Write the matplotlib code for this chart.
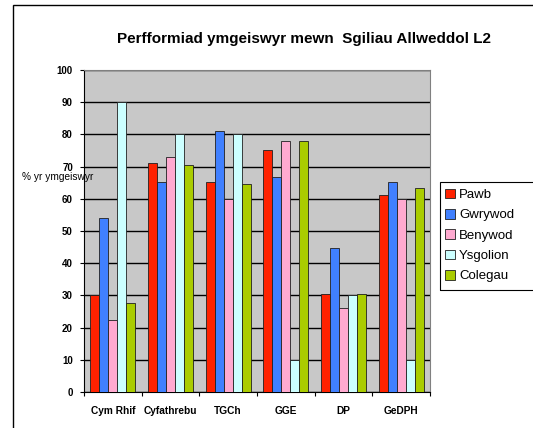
import numpy as np
import matplotlib.pyplot as plt
from matplotlib.patches import Rectangle

plt.rcParams['font.family'] = ['Liberation Sans', 'DejaVu Sans']

categories = ["Cym Rhif", "Cyfathrebu", "TGCh", "GGE", "DP", "GeDPH"]
series = ["Pawb", "Gwrywod", "Benywod", "Ysgolion", "Colegau"]
pawb = [30.0, 71.0, 65.2, 75.3, 30.5, 61.3]
gwrywod = [54.0, 65.2, 81.0, 66.7, 44.6, 65.2]
benywod = [22.5, 73.0, 60.0, 78.0, 26.0, 60.0]
ysgolion = [90.0, 80.0, 80.0, 10.0, 30.0, 10.0]
colegau = [27.7, 70.6, 64.5, 78.0, 30.5, 63.3]
colors = ["#FF2200", "#4080FF", "#FFAAD0", "#CCFFFF", "#AACC00"]
yticks = list(range(0, 101, 10))

values = [pawb, gwrywod, benywod, ysgolion, colegau]

fig = plt.figure(figsize=(5.33, 4.28), dpi=100)
ax = fig.add_axes([84/533, 1-392/428, 346/533, 322/428])
ax.set_facecolor("#C8C8C8")

x = np.arange(len(categories))
w = 0.156
for i, (name, vals) in enumerate(zip(series, values)):
    ax.bar(x + (i - 2)*w, vals, w, color=colors[i], edgecolor="#202020",
           linewidth=0.6, label=name, zorder=3)

ax.set_xlim(-0.5, len(categories)-0.5)
ax.set_ylim(0, 100)
ax.set_yticks(yticks)
ax.set_yticklabels([str(t) for t in yticks], fontsize=7, fontweight="bold")
ax.yaxis.grid(True, color="black", linewidth=1.0, zorder=1)
ax.set_axisbelow(True)

ax.set_xticks(np.arange(len(categories)+1) - 0.5)
ax.set_xticklabels([])
ax.tick_params(axis="x", direction="out", length=3, width=0.8)
ax.tick_params(axis="y", direction="out", length=3, width=0.8, pad=5)
for i, c in enumerate(categories):
    ax.annotate(c, (i, 0), xytext=(0, -10), textcoords="offset points",
                xycoords="data", ha="center", va="top", fontsize=7.3,
                fontweight="bold")

for s in ["top", "right"]:
    ax.spines[s].set_color("#808080")
for s in ["left", "bottom"]:
    ax.spines[s].set_color("black")
    ax.spines[s].set_linewidth(0.8)

fig.text(304/533, 1-39/428, "Perfformiad ymgeiswyr mewn  Sgiliau Allweddol L2",
         ha="center", va="center", fontsize=11, fontweight="bold")
fig.text(22/533, 1-177/428, "% yr ymgeiswyr", ha="left", va="center", fontsize=7.3)

# legend box runs off the right edge like the original
leg = fig.legend(loc="upper left", bbox_to_anchor=(440/533, 1-184/428),
                 fontsize=9.5, frameon=False, borderpad=0.35,
                 handlelength=0.75, handleheight=0.75, handletextpad=0.35,
                 labelspacing=0.6, borderaxespad=0)
fig.patches.append(Rectangle((440/533, 1-290/428), 0.3, 108/428,
                             transform=fig.transFigure, fill=False,
                             edgecolor="black", linewidth=0.8))

fig.patches.append(Rectangle((13/533, -0.1), 1.2, 1-5/428+0.1,
                             transform=fig.transFigure, fill=False,
                             edgecolor="black", linewidth=1.0))

fig.savefig("out.png", dpi=100)
